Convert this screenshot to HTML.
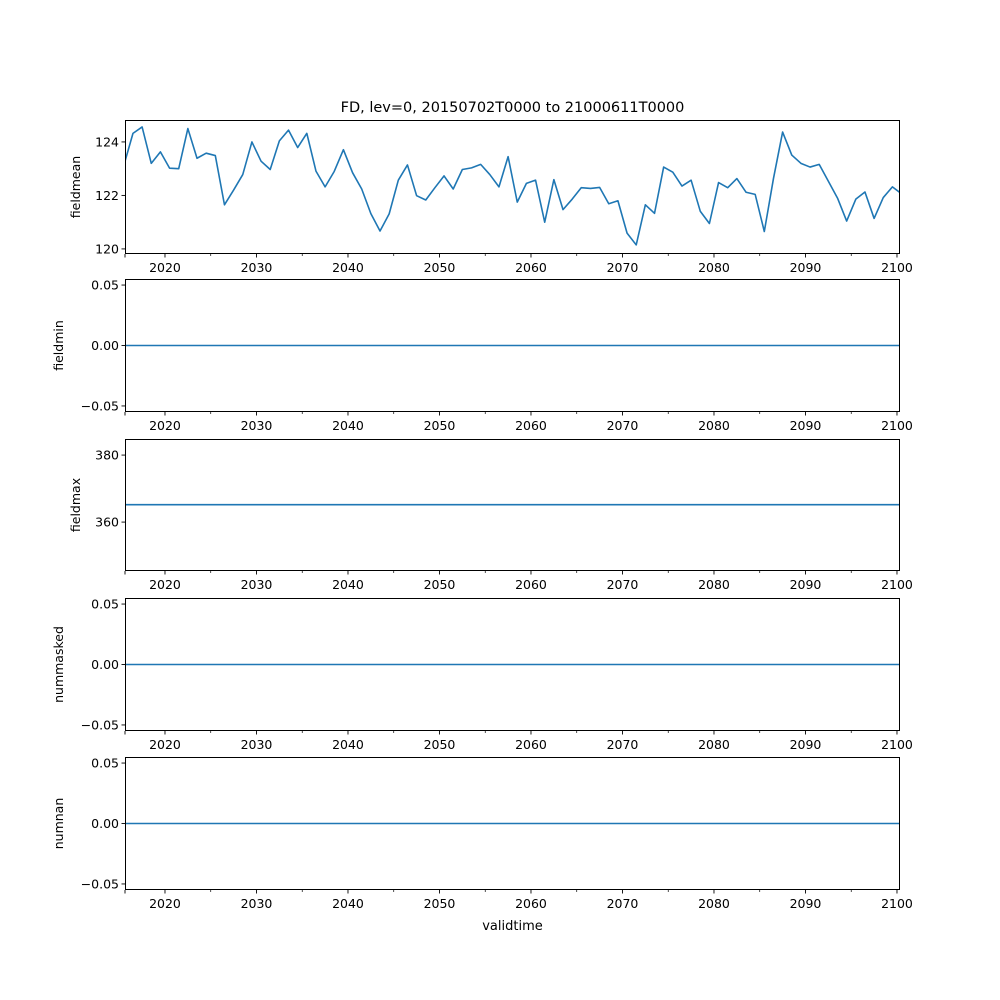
<!DOCTYPE html>
<html><head><meta charset="utf-8"><style>
html,body{margin:0;padding:0;background:#fff;}
svg{display:block;font-family:"DejaVu Sans","Liberation Sans",sans-serif;}
</style></head><body>
<svg id="fig" width="1000" height="1000" viewBox="0 0 1000 1000" xmlns="http://www.w3.org/2000/svg">
<rect width="1000" height="1000" fill="#fff"/>
<text x="512.5" y="112" font-size="14.5" text-anchor="middle">FD, lev=0, 20150702T0000 to 21000611T0000</text>
<text x="512.5" y="930" font-size="13" text-anchor="middle">validtime</text>
</svg>
<script>
const years = [];
for (let i = 0; i < 86; i++) years.push(2015.5 + i);
const fieldmean = [123.12,124.32,124.56,123.2,123.63,123.02,123.0,124.5,123.39,123.58,123.49,121.65,122.2,122.78,124.0,123.28,122.97,124.04,124.44,123.79,124.32,122.91,122.32,122.9,123.71,122.85,122.24,121.32,120.67,121.31,122.57,123.14,121.99,121.83,122.29,122.73,122.24,122.97,123.03,123.16,122.78,122.32,123.45,121.75,122.45,122.57,121.0,122.59,121.47,121.86,122.29,122.26,122.3,121.69,121.8,120.59,120.15,121.65,121.33,123.06,122.87,122.35,122.57,121.41,120.95,122.48,122.29,122.63,122.12,122.04,120.65,122.63,124.37,123.51,123.2,123.06,123.16,122.53,121.9,121.04,121.86,122.13,121.14,121.92,122.32,122.06];
const fieldminVal = 0, fieldmaxVal = 365.2, nummaskedVal = 0, numnanVal = 0;
const xTicks = [2020,2030,2040,2050,2060,2070,2080,2090,2100];
const xMinor = [2025,2035,2045,2055,2065,2075,2085,2095];
const tickLabels1 = ["120","122","124"];
const tickVals1 = [120,122,124];
const tickValsSmall = [-0.05,0,0.05];
const tickLabelsSmall = ["\u22120.05","0.00","0.05"];
const tickVals3 = [360,380];
const tickLabels3 = ["360","380"];

const NS = "http://www.w3.org/2000/svg";
const svg = document.getElementById('fig');
const L = 125, R = 900, X0 = 2015.63, X1 = 2100.33;
const xs = v => L + (v - X0) / (X1 - X0) * (R - L);
function mk(tag, attrs, parent) { const e = document.createElementNS(NS, tag); for (const k in attrs) e.setAttribute(k, attrs[k]); (parent||svg).appendChild(e); return e; }

const panels = [
 {name:'fieldmean', top:120, bot:254, y0:119.81, y1:124.82, tv:tickVals1, tl:tickLabels1, series:fieldmean, lx:80},
 {name:'fieldmin', top:279, bot:412, y0:-0.055, y1:0.055, tv:tickValsSmall, tl:tickLabelsSmall, series:years.map(()=>fieldminVal), lx:63},
 {name:'fieldmax', top:439, bot:571, y0:345.4, y1:384.8, tv:tickVals3, tl:tickLabels3, series:years.map(()=>fieldmaxVal), lx:80},
 {name:'nummasked', top:598, bot:731, y0:-0.055, y1:0.055, tv:tickValsSmall, tl:tickLabelsSmall, series:years.map(()=>nummaskedVal), lx:63},
 {name:'numnan', top:757, bot:890, y0:-0.055, y1:0.055, tv:tickValsSmall, tl:tickLabelsSmall, series:years.map(()=>numnanVal), lx:63}
];
panels.forEach(p => {
  const g = mk('g', {});
  
  
  const ys = v => p.bot - (v - p.y0) / (p.y1 - p.y0) * (p.bot - p.top);
  const pts = years.map((y,i) => xs(y).toFixed(2) + ',' + ys(p.series[i]).toFixed(2)).join(' ');
  const cp = 'clip-' + p.name;
  const cl = mk('clipPath', {id: cp}, g);
  mk('rect', {x:L, y:p.top, width:R-L, height:p.bot-p.top}, cl);
  const line = mk('polyline', {points: pts, fill:'none', stroke:'#1f77b4', 'stroke-width':1.6, 'stroke-linejoin':'round', 'clip-path':'url(#'+cp+')'}, g);
  
  
  const frame = mk('rect', {x:L+0.5, y:p.top+0.5, width:R-L-1, height:p.bot-p.top-1, fill:'none', stroke:'#000', 'stroke-width':1, 'shape-rendering':'crispEdges'}, g);
  
  
  p.tv.forEach((v,i) => {
    const y = ys(v);
    mk('line', {x1:L-3.5, x2:L, y1:y, y2:y, stroke:'#000', 'stroke-width':0.9}, g);
    const t = mk('text', {x:L-6, y:y+4.5, 'font-size':12.5, 'text-anchor':'end'}, g);
    t.textContent = p.tl[i];
    
    
  });
  mk('line', {x1:L, x2:L, y1:p.bot, y2:p.bot+3.5, stroke:'#000', 'stroke-width':0.9}, g);
  xTicks.forEach(v => {
    const x = xs(v);
    mk('line', {x1:x, x2:x, y1:p.bot, y2:p.bot+3.5, stroke:'#000', 'stroke-width':0.9}, g);
    const t = mk('text', {x:x, y:p.bot+18, 'font-size':12.5, 'text-anchor':'middle'}, g);
    t.textContent = String(v);
    
    
  });
  xMinor.forEach(v => { const x = xs(v); mk('line', {x1:x, x2:x, y1:p.bot, y2:p.bot+2, stroke:'#000', 'stroke-width':0.7}, g); });
  const cy = (p.top + p.bot) / 2;
  const lab = mk('text', {x:p.lx, y:cy, 'font-size':12.5, 'text-anchor':'middle', transform:'rotate(-90 '+p.lx+' '+cy+')'}, g);
  lab.textContent = p.name;
  
  
});
</script>
</body></html>
